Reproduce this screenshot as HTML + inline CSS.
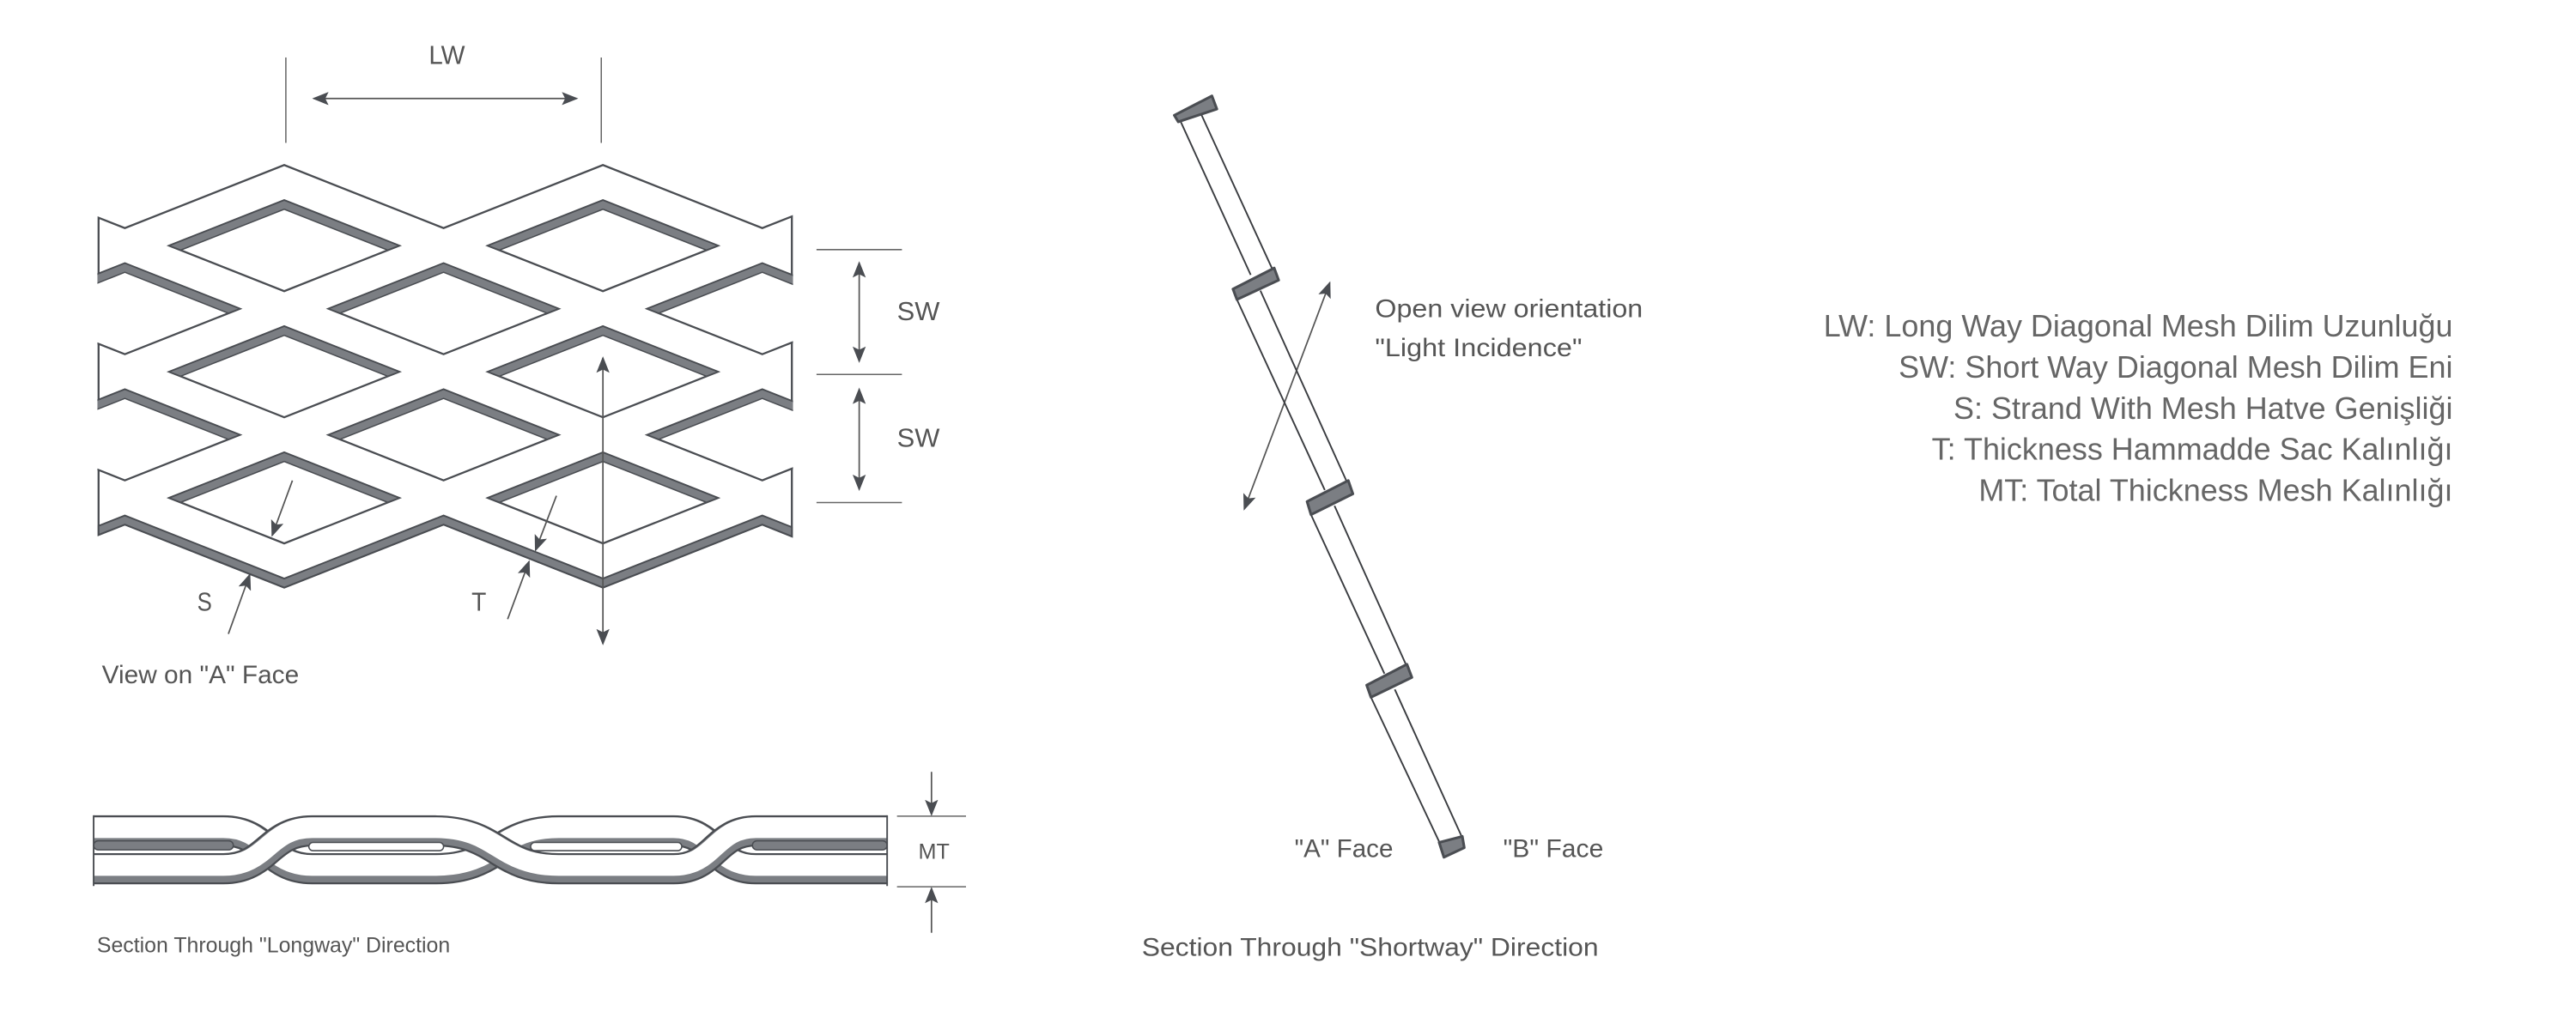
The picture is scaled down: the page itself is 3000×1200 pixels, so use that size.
<!DOCTYPE html>
<html><head><meta charset="utf-8"><style>html,body{margin:0;padding:0;background:#fff}svg{display:block}</style></head>
<body>
<svg xmlns="http://www.w3.org/2000/svg" width="3000" height="1200" viewBox="0 0 1568 627.2" preserveAspectRatio="none">
<defs>
<marker id="ar" viewBox="0 0 10 8" refX="9" refY="4" markerWidth="10" markerHeight="8" markerUnits="userSpaceOnUse" orient="auto-start-reverse"><path d="M0,0 L10,4 L0,8 L2,4 Z" fill="#4a4d52"/></marker>
<g id="h"><polygon points="-70,0 0,-27.7 70,0 0,27.7" fill="#fff" stroke="#4a4d52" stroke-width="1.2"/><polygon points="-70,0 0,-27.7 70,0 63,2.7 0,-22.2 -63,2.7" fill="#7b7e83" stroke="#4a4d52" stroke-width="0.8" stroke-linejoin="round"/></g>
<clipPath id="cl"><rect x="59.3" y="0" width="423.4" height="624"/></clipPath>
</defs>
<rect width="1568" height="627.2" fill="#fff"/>

<polygon points="60,132.6 76,138.9 173,100.5 270,138.9 367,100.5 464,138.9 482,131.8 482,326.6 464,319.4 367,357.8 270,319.4 173,357.8 76,319.4 60,325.7" fill="#fff" stroke="#4a4d52" stroke-width="1.2" stroke-linejoin="miter"/>
<polygon points="60,320.2 76,313.9 173,352.3 270,313.9 367,352.3 464,313.9 482,321 482,326.6 464,319.4 367,357.8 270,319.4 173,357.8 76,319.4 60,325.7" fill="#7b7e83" stroke="#4a4d52" stroke-width="1"/>
<g clip-path="url(#cl)">
<use href="#h" x="76" y="188"/><use href="#h" x="464" y="188"/>
<use href="#h" x="76" y="264.8"/><use href="#h" x="464" y="264.8"/>
</g>
<use href="#h" x="173" y="149.6"/><use href="#h" x="367" y="149.6"/>
<use href="#h" x="270" y="188"/>
<use href="#h" x="173" y="226.4"/><use href="#h" x="367" y="226.4"/>
<use href="#h" x="270" y="264.8"/>
<use href="#h" x="173" y="303.2"/><use href="#h" x="367" y="303.2"/>

<g stroke="#666" stroke-width="0.8" fill="none">
<line x1="174" y1="35" x2="174" y2="87"/><line x1="366" y1="35" x2="366" y2="87"/>
<line x1="497" y1="152" x2="549" y2="152"/><line x1="497" y1="228" x2="549" y2="228"/><line x1="497" y1="306" x2="549" y2="306"/>
<line x1="546" y1="497" x2="588" y2="497"/><line x1="546" y1="540" x2="588" y2="540"/>
</g>
<g stroke="#555" stroke-width="0.9" fill="none" marker-end="url(#ar)">
<line x1="191" y1="60" x2="351" y2="60" marker-start="url(#ar)"/>
<line x1="523" y1="160" x2="523" y2="220" marker-start="url(#ar)"/>
<line x1="523" y1="237" x2="523" y2="298" marker-start="url(#ar)"/>
<line x1="367" y1="218" x2="367" y2="392" marker-start="url(#ar)"/>
<line x1="139" y1="386" x2="152" y2="350"/>
<line x1="178" y1="292.6" x2="165.7" y2="326"/>
<line x1="309" y1="377" x2="322" y2="342"/>
<line x1="338.7" y1="301.9" x2="326" y2="335"/>
<line x1="567" y1="470" x2="567" y2="496"/>
<line x1="567" y1="568" x2="567" y2="541"/>
<line x1="809.4" y1="172.2" x2="757.4" y2="310" marker-start="url(#ar)"/>
</g>

<g font-family="'Liberation Sans Narrow','Liberation Sans',sans-serif" fill="#555" font-size="16">
<text x="261" y="39" textLength="22" lengthAdjust="spacingAndGlyphs">LW</text>
<text x="546" y="195" textLength="26" lengthAdjust="spacingAndGlyphs">SW</text>
<text x="546" y="272" textLength="26" lengthAdjust="spacingAndGlyphs">SW</text>
<text x="120" y="372" textLength="9" lengthAdjust="spacingAndGlyphs">S</text>
<text x="287" y="372" textLength="9" lengthAdjust="spacingAndGlyphs">T</text>
<text x="559" y="523" font-size="13" textLength="19" lengthAdjust="spacingAndGlyphs">MT</text>
<text x="59" y="580" font-size="13" textLength="215" lengthAdjust="spacingAndGlyphs">Section Through "Longway" Direction</text>
</g>
<g font-family="'Liberation Sans',sans-serif" fill="#555" font-size="15.5">
<text x="62" y="416" textLength="120" lengthAdjust="spacingAndGlyphs">View on "A" Face</text>
<text x="837" y="193" textLength="163" lengthAdjust="spacingAndGlyphs">Open view orientation</text>
<text x="837" y="217" textLength="126" lengthAdjust="spacingAndGlyphs">"Light Incidence"</text>
<text x="788" y="522" textLength="60" lengthAdjust="spacingAndGlyphs">"A" Face</text>
<text x="915" y="522" textLength="61" lengthAdjust="spacingAndGlyphs">"B" Face</text>
<text x="695" y="582" textLength="278" lengthAdjust="spacingAndGlyphs">Section Through "Shortway" Direction</text>
</g>
<g font-family="'Liberation Sans',sans-serif" fill="#666" font-size="18.8" text-anchor="end">
<text x="1493" y="205">LW: Long Way Diagonal Mesh Dilim Uzunluğu</text>
<text x="1493" y="230">SW: Short Way Diagonal Mesh Dilim Eni</text>
<text x="1493" y="255">S: Strand With Mesh Hatve Genişliği</text>
<text x="1493" y="280">T: Thickness Hammadde Sac Kalınlığı</text>
<text x="1493" y="305">MT: Total Thickness Mesh Kalınlığı</text>
</g>

<g fill="none" stroke-linecap="butt">
<g>
<path d="M57,506 L136,506 C163,506 163,529 190,529 L265,529 C303,529 303,506 340,506 L410,506 C435,506 435,529 460,529 L540,529" stroke="#4a4d52" stroke-width="19"/>
<path d="M57,506 L136,506 C163,506 163,529 190,529 L265,529 C303,529 303,506 340,506 L410,506 C435,506 435,529 460,529 L540,529" stroke="#7b7e83" stroke-width="16.6"/>
<path d="M57,504 L136,504 C163,504 163,527 190,527 L265,527 C303,527 303,504 340,504 L410,504 C435,504 435,527 460,527 L540,527" stroke="#fff" stroke-width="12.6"/>
</g>
<g>
<path d="M57,529 L136,529 C163,529 163,506 190,506 L265,506 C303,506 303,529 340,529 L410,529 C435,529 435,506 460,506 L540,506" stroke="#4a4d52" stroke-width="19"/>
<path d="M57,529 L136,529 C163,529 163,506 190,506 L265,506 C303,506 303,529 340,529 L410,529 C435,529 435,506 460,506 L540,506" stroke="#7b7e83" stroke-width="16.6"/>
<path d="M57,527 L136,527 C163,527 163,504 190,504 L265,504 C303,504 303,527 340,527 L410,527 C435,527 435,504 460,504 L540,504" stroke="#fff" stroke-width="12.6"/>
</g>
</g>
<g fill="#fff" stroke="#4a4d52" stroke-width="0.8">
<rect x="57" y="512" width="85" height="5.5" rx="2.7" fill="#7b7e83"/>
<rect x="188" y="513" width="82" height="5" rx="2.5"/>
<rect x="323" y="513" width="92" height="5" rx="2.5"/>
<rect x="458" y="512" width="82" height="5.5" rx="2.7" fill="#7b7e83"/>
</g>
<g stroke="#4a4d52" stroke-width="1"><line x1="57" y1="496.5" x2="57" y2="539.5"/><line x1="540" y1="496.5" x2="540" y2="539.5"/></g>

<g stroke="#3a3c40" stroke-width="1" fill="none">
<line x1="718.2" y1="73" x2="761.3" y2="167.4"/><line x1="730.9" y1="69" x2="775" y2="165"/>
<line x1="752.9" y1="182.4" x2="806.4" y2="298.4"/><line x1="767.2" y1="177" x2="820.1" y2="294"/>
<line x1="798" y1="313.4" x2="842.7" y2="410.2"/><line x1="812.3" y1="308" x2="856.4" y2="406"/>
<line x1="834.5" y1="424.6" x2="876" y2="512.5"/><line x1="849" y1="419.8" x2="890.1" y2="510.2"/>
</g>
<g fill="#7b7e83" stroke="#4a4d52" stroke-width="1.6" stroke-linejoin="round">
<polygon points="714.8,70.2 737.7,58.4 740.7,66.4 717.2,74.2"/>
<polygon points="750.5,176 775.6,163.2 778.3,170.6 752.9,182.4"/>
<polygon points="795.6,305.4 820.7,292.6 823.5,300.7 798,313.4"/>
<polygon points="831.9,417.2 856.4,404.5 859.4,412.5 834.5,424.6"/>
<polygon points="876,513 890.1,509.3 891.3,516.2 878.9,522"/>
</g>
</svg>
</body></html>
